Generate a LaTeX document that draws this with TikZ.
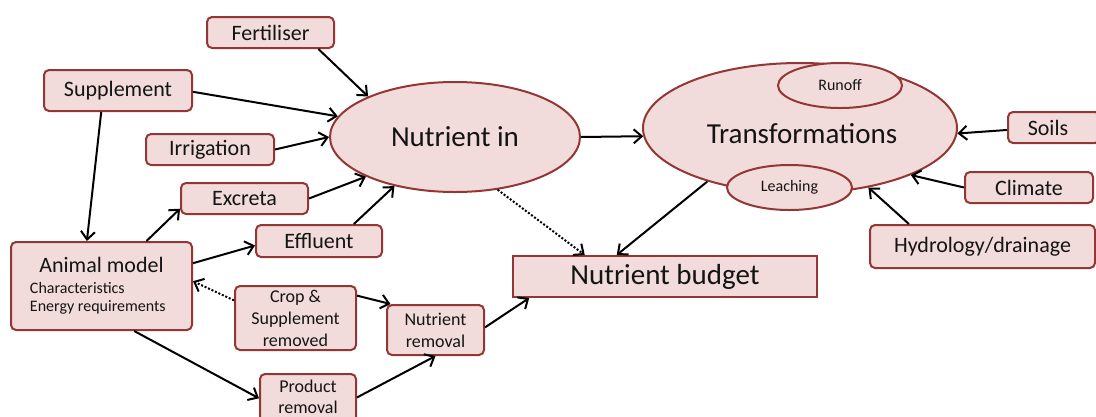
\documentclass[tikz,border=0pt]{standalone}
\usepackage{fontspec}
\setmainfont{Carlito}
\usetikzlibrary{arrows.meta,shapes.geometric}
\definecolor{bcol}{HTML}{943634}
\definecolor{fcol}{HTML}{F2DCDB}
\definecolor{tcol}{HTML}{141414}
\begin{document}
\begin{tikzpicture}[x=1pt,y=-1pt,
  box/.style={draw=bcol,fill=fcol,line width=2pt,rounded corners=5pt,inner sep=0pt,align=center,text=tcol,font=\fontsize{22}{26}\selectfont},
  sbox/.style={box,font=\fontsize{18}{22}\selectfont},
  oval/.style={ellipse,draw=bcol,fill=fcol,line width=2pt,inner sep=0pt,text=tcol},
  arr/.style={line width=2pt,-{Straight Barb[length=8pt,width=14pt]}},
  dots/.style={arr,dash pattern=on 2pt off 1.8pt}]
\clip (0,0) rectangle (1096,416);
\fill[white] (0,0) rectangle (1096,416);
% boxes
\node[box,minimum width=127pt,minimum height=31pt] (fert) at (270.5,32.5) {Fertiliser};
\node[box,minimum width=148pt,minimum height=41pt] (supp) at (118,90.5) {Supplement};
\node[box,minimum width=128pt,minimum height=31pt] (irr) at (210,149.5) {Irrigation};
\node[box,minimum width=127pt,minimum height=31pt] (exc) at (244.5,198.5) {Excreta};
\node[box,minimum width=126pt,minimum height=32pt] (eff) at (319,241) {Effluent};
\node[box,minimum width=181pt,minimum height=88pt,align=left,font=\fontsize{16}{18.5}\selectfont] (animal) at (101.5,286)
  {\makebox[143pt][c]{\fontsize{22}{26}\selectfont Animal model}\\[2pt]Characteristics\\Energy requirements};
\node[sbox,minimum width=121pt,minimum height=64pt] (crop) at (295.5,318) {Crop \&\\Supplement\\removed};
\node[sbox,minimum width=97pt,minimum height=50pt] (nrem) at (435.5,330) {Nutrient\\removal};
\node[sbox,minimum width=96pt,minimum height=52pt] (prod) at (308,400) {};
\node[text=tcol,font=\fontsize{18}{21}\selectfont,align=center,inner sep=0pt] (prodtext) at (308,397) {Product\\removal};
\node[box,rounded corners=0pt,minimum width=304pt,minimum height=41pt,font=\fontsize{29}{34}\selectfont] (nb) at (665,276.5) {Nutrient budget};
\node[box,minimum width=92pt,minimum height=31pt] (soils) at (1054,127.5) {\hspace*{-12pt}Soils};
\node[box,minimum width=128pt,minimum height=31pt] (climate) at (1029,187.5) {Climate};
\node[box,minimum width=225pt,minimum height=43pt] (hydro) at (982.5,246.5) {Hydrology/drainage};
% ellipses
\node[oval,minimum width=250pt,minimum height=110pt,font=\fontsize{29}{34}\selectfont] (ni) at (455,137) {Nutrient in};
\node[oval,minimum width=314pt,minimum height=130pt] (tr) at (800,128) {};
\node[text=tcol,font=\fontsize{29}{34}\selectfont] (trtext) at (802,134) {Transformations};
\node[oval,minimum width=124pt,minimum height=45pt,font=\fontsize{16}{19}\selectfont] (runoff) at (840,85.5) {Runoff};
\node[oval,minimum width=125pt,minimum height=45pt,font=\fontsize{16}{19}\selectfont] (leach) at (789.5,187.5) {Leaching};
% connectors
\draw[arr] (fert.-19) -- (ni.155);
\draw[arr] (supp.-1) -- (ni.170.6);
\draw[arr] (irr.east) -- (ni.west);
\draw[arr] (exc.east) -- (ni.204);
\draw[arr] (eff.26) -- (ni.219);
\draw[arr] (supp.232) -- (animal.108);
\draw[arr] (animal.45) -- (exc.189);
\draw[arr] (animal.14) -- (eff.184);
\draw[dots] (crop.164) -- (animal.3);
\draw[arr] (animal.-54) -- (prod.178);
\draw[arr] (crop.20) -- (nrem.150);
\draw[arr] (prod.3) -- (nrem.south);
\draw[arr] (nrem.3) -- (nb.189);
\draw[dots] (ni.-51) -- (nb.165);
\draw[arr] (tr.210) -- (nb.156);
\draw[arr] (ni.east) -- (tr.183);
\draw[arr] (soils.183) -- (tr.-2);
\draw[arr] (climate.west) -- (tr.-23);
\draw[arr] (hydro.163.5) -- (tr.-41);
\end{tikzpicture}
\end{document}
